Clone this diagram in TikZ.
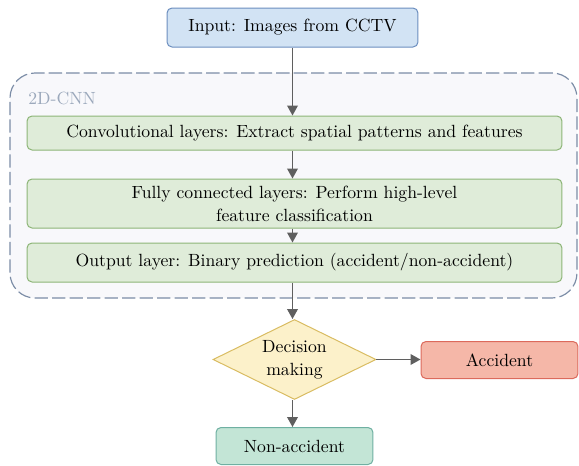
\documentclass[tikz,border=0pt]{standalone}
\usepackage{xcolor}
\usepackage{tikz}
\usetikzlibrary{arrows.meta,positioning,shapes.geometric}
\definecolor{infill}{HTML}{D2E3F4}
\definecolor{inline}{HTML}{6C8EBF}
\definecolor{layfill}{HTML}{DFECD9}
\definecolor{layline}{HTML}{8DB577}
\definecolor{decfill}{HTML}{FCF1CA}
\definecolor{decline}{HTML}{D9BC62}
\definecolor{accfill}{HTML}{F5B7A8}
\definecolor{accline}{HTML}{DC6A5C}
\definecolor{nonfill}{HTML}{C3E5D6}
\definecolor{nonline}{HTML}{6FB0A2}
\definecolor{cnnfill}{HTML}{F8F8FB}
\definecolor{cnnline}{HTML}{7B8CA6}
\definecolor{arrgray}{HTML}{5F5F5F}
\tikzset{
  box/.style={rectangle, rounded corners=3pt, draw=#1line, fill=#1fill, align=center,
              inner sep=2pt, line width=0.6pt},
  arr/.style={-{Triangle[length=6pt, width=6.4pt]}, line width=0.9pt, arrgray},
}

\begin{document}
\begin{tikzpicture}[font=\fontsize{10.6}{13.8}\selectfont, x=0.6pt, y=-0.6pt]
\useasboundingbox (0,0) rectangle (579,466);
% dashed container
\node[rectangle, rounded corners=15pt, draw=cnnline, fill=cnnfill, dash pattern=on 8pt off 2.5pt,
      line width=0.7pt, minimum width=340.2pt, minimum height=135pt] (cnn) at (293.5,185.5) {};
\node[anchor=west, text=cnnline!75, inner sep=0pt] (cnnlab) at (28,98) {2D-CNN};
% boxes
\node[box=in, minimum width=150.6pt, minimum height=23.4pt] (inp) at (292.5,27.5) {Input: Images from CCTV};
\node[box=lay, minimum width=321pt, minimum height=20.4pt] (conv) at (294.5,133) {Convolutional layers: Extract spatial patterns and features};
\node[box=lay, minimum width=321pt, minimum height=29.4pt] (fc) at (294.5,203.5) {Fully connected layers: Perform high-level\\ feature classification};
\node[box=lay, minimum width=321pt, minimum height=23.4pt] (out) at (294.5,262.5) {Output layer: Binary prediction (accident/non-accident)};
\node[diamond, draw=decline, fill=decfill, line width=0.6pt, align=center, inner sep=0pt,
      shape aspect=2, minimum width=97.8pt, minimum height=48pt] (dec) at (294.5,359.5) {Decision\\ making};
\node[box=acc, minimum width=94.2pt, minimum height=22.2pt] (acc) at (499.5,360) {Accident};
\node[box=non, minimum width=94.2pt, minimum height=22.2pt] (non) at (294.5,446) {Non-accident};
% arrows
\draw[arr] (inp) -- (inp |- conv.north);
\draw[arr] (inp |- conv.south) -- (inp |- fc.north);
\draw[arr] (inp |- fc.south) -- (inp |- out.north);
\draw[arr] (inp |- out.south) -- (inp |- dec.north);
\draw[arr] (dec.east) -- (dec.east -| acc.west);
\draw[arr] (inp |- dec.south) -- (inp |- non.north);
\end{tikzpicture}
\end{document}
